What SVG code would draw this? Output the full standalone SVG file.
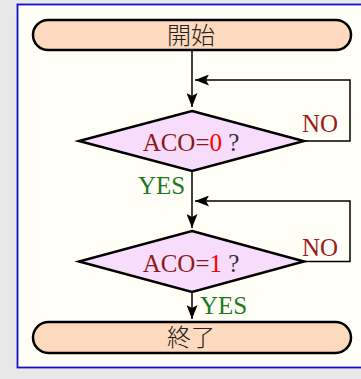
<svg xmlns="http://www.w3.org/2000/svg" width="361" height="379" viewBox="0 0 361 379">
<style>
.term{fill:#fdd9bd;stroke:#000;stroke-width:2.5}
.dia{fill:#f8dcfc;stroke:#000;stroke-width:2.5}
.conn{fill:none;stroke:#000;stroke-width:1.5}
.t{font-family:"Liberation Serif","Noto Sans CJK JP",serif;font-size:25px}
.cjk{font-family:"Noto Sans CJK JP",sans-serif;font-size:24px;fill:#222;font-weight:300}
.no{fill:#9b1c1c}
.yes{fill:#1f7a1f}
.aco{fill:#8b1a1a}
.num{fill:#ff0000}
.q{fill:#333}
</style>
<defs>
<marker id="ah" markerWidth="14" markerHeight="11" refX="14" refY="5.5" orient="auto" markerUnits="userSpaceOnUse">
<path d="M0,0 L14,5.5 L0,11 L3,5.5 Z" fill="#000"/>
</marker>
</defs>
<rect x="0" y="0" width="361" height="379" fill="#e8e8e8"/>
<rect x="17.5" y="4.5" width="360" height="363" fill="#fffff7" stroke="#1010d0" stroke-width="1.8"/>
<g id="connectors">
<line class="conn" x1="192" y1="50" x2="192" y2="107" marker-end="url(#ah)"/>
<polyline class="conn" points="304,141 350,141 350,80 195,80" marker-end="url(#ah)"/>
<line class="conn" x1="192" y1="171" x2="192" y2="228" marker-end="url(#ah)"/>
<polyline class="conn" points="304,261.5 350,261.5 350,201 195,201" marker-end="url(#ah)"/>
<line class="conn" x1="192" y1="292" x2="192" y2="319" marker-end="url(#ah)"/>
<text class="t no" x="302" y="132">NO</text>
<text class="t yes" x="138" y="194">YES</text>
<text class="t no" x="302" y="256">NO</text>
<text class="t yes" x="200" y="314">YES</text>
</g>
<g id="start">
<rect class="term" x="33" y="20" width="318" height="30" rx="15" ry="15"/>
<text class="cjk" x="191" y="44" text-anchor="middle">開始</text>
</g>
<g id="cond0">
<polygon class="dia" points="192,111 304,141 192,171 79,141"/>
<text class="t" x="191" y="151" text-anchor="middle"><tspan class="aco">ACO=</tspan><tspan class="num">0</tspan><tspan class="q"> ?</tspan></text>
</g>
<g id="cond1">
<polygon class="dia" points="192,231 304,261.5 192,292 79,261.5"/>
<text class="t" x="191" y="271.5" text-anchor="middle"><tspan class="aco">ACO=</tspan><tspan class="num">1</tspan><tspan class="q"> ?</tspan></text>
</g>
<g id="end">
<rect class="term" x="33" y="322" width="318" height="31" rx="15.5" ry="15.5"/>
<text class="cjk" x="191" y="346" text-anchor="middle">終了</text>
</g>
</svg>
